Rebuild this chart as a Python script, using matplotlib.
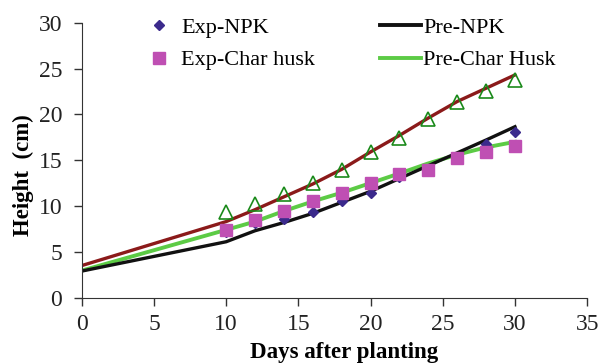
import numpy as np
import matplotlib.pyplot as plt
from matplotlib.lines import Line2D

plt.rcParams['font.family'] = ['Liberation Serif', 'DejaVu Serif']

# measured points (days 10..30)
days = [10, 12, 14, 16, 18, 20, 22, 24, 26, 28, 30]
exp_npk = [7.2, 8.1, 8.55, 9.3, 10.6, 11.4, 13.2, 14.0, 15.4, 16.8, 18.1]
exp_char = [7.4, 8.5, 9.5, 10.5, 11.4, 12.5, 13.45, 13.9, 15.2, 15.9, 16.5]
exp_third = [9.3, 10.2, 11.3, 12.5, 13.9, 15.9, 17.45, 19.45, 21.4, 22.6, 23.7]

# predicted curves (days 0, 10..30)
pred_days = [0, 10, 12, 14, 16, 18, 20, 22, 24, 26, 28, 30]
pre_npk = [2.9, 6.1, 7.3, 8.2, 9.2, 10.4, 11.6, 13.0, 14.4, 15.8, 17.2, 18.65]
pre_char = [2.95, 7.4, 8.3, 9.45, 10.5, 11.45, 12.5, 13.55, 14.65, 15.6, 16.4, 17.0]
pre_third = [3.5, 8.3, 9.6, 11.0, 12.4, 14.0, 15.9, 17.7, 19.6, 21.4, 22.85, 24.3]

labels = ['Exp-NPK', 'Exp-Char husk', 'Pre-NPK', 'Pre-Char Husk']

fig = plt.figure(figsize=(6.01, 3.63), dpi=100)
ax = fig.add_axes([0.136, 0.180, 0.841, 0.7575])

ax.plot(pred_days, pre_third, color='#8b1a1a', lw=2.4, zorder=2)
ax.plot(pred_days, pre_char, color='#5ccb45', lw=2.8, zorder=2)
ax.plot(pred_days, pre_npk, color='#111111', lw=2.4, zorder=2)
ax.plot(days, exp_third, linestyle='none', marker='^', ms=9.5, mfc='none',
        mec='#1a8a1a', mew=1.2, zorder=3)
ax.plot(days, exp_npk, linestyle='none', marker='D', ms=5.5, color='#3b2a8c', zorder=3)
ax.plot(days, exp_char, linestyle='none', marker='s', ms=8.3, color='#bf4fb3', zorder=4)

ax.set_xlim(0, 35)
ax.set_ylim(0, 30)
ax.set_xticks(np.arange(0, 36, 5))
ax.set_yticks(np.arange(0, 31, 5))
for s in ['top', 'right']:
    ax.spines[s].set_visible(False)
for s in ['left', 'bottom']:
    ax.spines[s].set_color('#333333')
ax.tick_params(direction='out', length=6, width=1, colors='#333333',
               labelsize=17, labelcolor='#222222')
ax.tick_params(axis='x', pad=6)
ax.tick_params(axis='y', pad=8)

ax.set_xlabel('Days after planting', fontsize=16.5, fontweight='bold', va='top')
ax.xaxis.set_label_coords(0.52, -0.162)
ax.set_ylabel('Height  (cm)', fontsize=16.5, fontweight='bold', va='center')
ax.yaxis.set_label_coords(-0.115, 0.446)

handles = [
    Line2D([], [], linestyle='none', marker='D', ms=5.5, color='#3b2a8c'),
    Line2D([], [], linestyle='none', marker='s', ms=8, color='#bf4fb3'),
    Line2D([], [], color='#111111', lw=2.8),
    Line2D([], [], color='#5ccb45', lw=2.8),
]
fig.legend(handles, labels, ncol=2, frameon=False, fontsize=16,
           loc='upper left', bbox_to_anchor=(138 / 601, 1 - 17 / 363),
           borderpad=0, borderaxespad=0, handlelength=1.85, handletextpad=0.1,
           columnspacing=2.9, labelspacing=0.55)

fig.savefig('out.png', dpi=100)
